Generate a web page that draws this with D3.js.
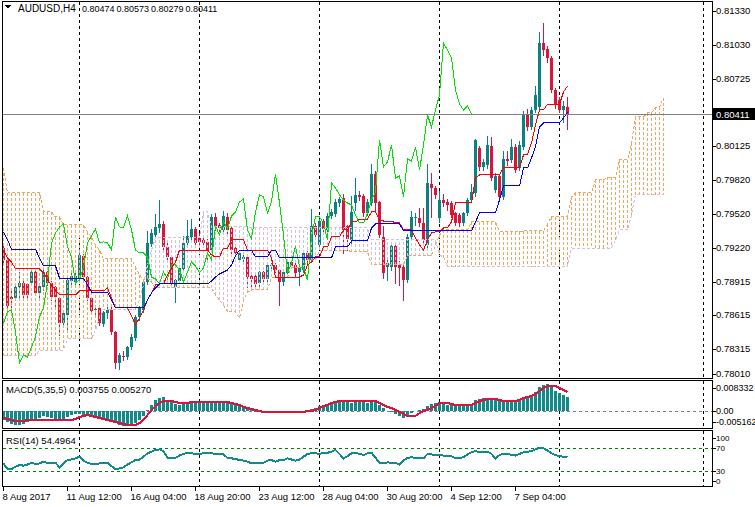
<!DOCTYPE html>
<html>
<head>
<meta charset="utf-8">
<script src="https://d3js.org/d3.v7.min.js"></script>
<style>
body { margin: 0; background: #fff; }
svg { display: block; shape-rendering: crispEdges; }
text { font-family: "Liberation Sans", Arial, sans-serif; font-size: 9.5px; fill: #000; }
</style>
</head>
<body>
<div id="content"></div>
<script>
// ---- data ----
var symbol = 'AUDUSD,H4';
var lastBar = [0.80474, 0.80573, 0.80279, 0.80411];

// [open, high, low, close] per H4 bar
var ohlc = [
[.79217,.79253,.79083,.79110],[.79110,.79128,.78682,.78699],[.78780,.78860,.78682,.78762],[.78771,.78887,.78753,.78869],
[.78869,.79012,.78753,.78905],[.78905,.78932,.78771,.78798],[.78896,.78914,.78753,.78798],[.78905,.79039,.78887,.79003],
[.79003,.79021,.78798,.78816],[.78816,.78896,.78753,.78878],[.78869,.79039,.78842,.79003],[.79003,.79021,.78887,.78905],
[.78905,.78932,.78753,.78780],[.78869,.78887,.78699,.78780],[.78771,.78789,.78440,.78548],[.78548,.78664,.78521,.78637],
[.78619,.78949,.78485,.78932],[.78923,.79003,.78896,.78967],[.78914,.79003,.78896,.78967],[.78949,.79217,.78932,.79155],
[.79146,.79173,.78941,.78958],[.78958,.78976,.78753,.78771],[.78771,.78789,.78637,.78655],[.78664,.78708,.78628,.78673],
[.78682,.78708,.78530,.78548],[.78539,.78664,.78521,.78646],[.78637,.78708,.78592,.78664],[.78664,.78699,.78449,.78467],
[.78467,.78485,.78146,.78190],[.78190,.78289,.78137,.78262],[.78253,.78306,.78217,.78244],[.78244,.78351,.78226,.78333],
[.78333,.78458,.78315,.78423],[.78414,.78628,.78396,.78601],[.78601,.78708,.78574,.78682],[.78664,.78932,.78646,.78914],
[.78914,.79378,.78896,.79262],[.79253,.79396,.79235,.79351],[.79333,.79530,.79316,.79405],[.79396,.79655,.79360,.79432],
[.79432,.79467,.79199,.79226],[.79226,.79289,.79119,.79137],[.79137,.79155,.78878,.78905],[.78869,.78949,.78735,.78932],
[.78923,.79066,.78905,.79039],[.79030,.79333,.79012,.79262],[.79262,.79476,.79244,.79325],[.79316,.79485,.79289,.79387],
[.79387,.79414,.79235,.79262],[.79307,.79360,.79244,.79271],[.79289,.79325,.79235,.79262],[.79271,.79307,.79092,.79199],
[.79199,.79530,.79182,.79494],[.79494,.79539,.79378,.79405],[.79423,.79450,.79360,.79396],[.79378,.79557,.79360,.79503],
[.79494,.79539,.79351,.79378],[.79396,.79423,.79173,.79199],[.79217,.79244,.79146,.79173],[.79110,.79199,.79092,.79173],
[.79119,.79173,.79092,.79137],[.79137,.79155,.78869,.78958],[.78967,.78985,.78869,.78941],[.78967,.78994,.78860,.78896],
[.78905,.79021,.78878,.79003],[.79003,.79021,.78914,.78941],[.78941,.79092,.78923,.79066],[.79057,.79092,.79039,.79066],
[.79066,.79092,.79003,.79021],[.79021,.79039,.78708,.78914],[.78914,.79021,.78887,.79003],[.78994,.79128,.78967,.79092],
[.79092,.79119,.79039,.79057],[.79066,.79092,.78967,.78994],[.79003,.79066,.78887,.79039],[.79021,.79199,.79003,.79173],
[.79173,.79199,.79083,.79110],[.79110,.79575,.79092,.79414],[.79414,.79450,.79307,.79333],[.79244,.79485,.79217,.79458],
[.79458,.79485,.79360,.79387],[.79378,.79539,.79333,.79503],[.79503,.79575,.79485,.79539],[.79521,.79664,.79503,.79628],
[.79619,.79682,.79592,.79655],[.79664,.79709,.79173,.79378],[.79414,.79432,.79199,.79298],[.79289,.79691,.79262,.79539],
[.79619,.79851,.79557,.79691],[.79691,.79735,.79646,.79673],[.79682,.79709,.79503,.79530],[.79530,.79664,.79512,.79628],
[.79619,.79976,.79601,.79878],[.79878,.79914,.79557,.79619],[.79628,.79646,.79316,.79333],[.79316,.79423,.78949,.78994],
[.79048,.79128,.78932,.79083],[.79048,.79262,.79021,.79235],[.79235,.79262,.78905,.79048],[.79066,.79110,.78887,.79039],
[.79048,.79083,.78753,.78932],[.78932,.79351,.78914,.79316],[.79316,.79557,.79289,.79494],[.79485,.79539,.79423,.79494],
[.79485,.79583,.79414,.79441],[.79441,.79583,.79262,.79289],[.79244,.79976,.79226,.79798],[.79789,.79896,.79494,.79753],
[.79753,.79780,.79664,.79691],[.79485,.79735,.79450,.79646],[.79646,.79709,.79592,.79619],[.79628,.79664,.79557,.79601],
[.79619,.79646,.79494,.79512],[.79530,.79548,.79423,.79441],[.79512,.79539,.79414,.79441],[.79441,.79548,.79423,.79530],
[.79530,.79673,.79512,.79646],[.79646,.79798,.79628,.79717],[.79709,.80200,.79682,.80182],[.80110,.80137,.79914,.79941],
[.79941,.80021,.79914,.79985],[.79959,.80226,.79932,.80137],[.80128,.80218,.79825,.79842],[.79735,.79896,.79717,.79860],
[.79860,.79887,.79655,.79673],[.79673,.80092,.79655,.80012],[.80012,.80092,.79959,.79994],[.80003,.80200,.79985,.80119],
[.80119,.80155,.79896,.79914],[.79932,.80182,.79914,.80137],[.80119,.80450,.80101,.80405],[.80405,.80468,.80271,.80298],
[.80298,.80485,.80280,.80450],[.80450,.80673,.80432,.80584],[.80476,.81155,.80459,.81048],[.81048,.81236,.80941,.80985],
[.80994,.81030,.80878,.80914],[.80914,.80941,.80610,.80628],[.80628,.80655,.80468,.80503],[.80539,.80575,.80432,.80450],
[.80450,.80539,.80343,.80485],lastBar
];

// step lines as [value, number of bars]
var tenkanRuns = [[.79199,1],[.79128,1],[.79092,1],[.79030,7],[.78994,1],[.78932,1],[.78887,1],[.78842,1],[.78798,5],[.78833,7],
[.78860,1],[.78771,1],[.78682,4],[.78610,1],[.78530,1],[.78592,1],[.78664,1],[.78753,1],[.78816,1],[.78887,1],[.78896,2],
[.78976,1],[.79039,1],[.79092,1],[.79199,8],[.79155,1],[.79137,2],[.79217,2],[.79289,4],[.79199,6],[.79128,1],[.78958,7],
[.78976,1],[.79066,1],[.79092,1],[.79137,2],[.79226,2],[.79316,3],[.79378,2],[.79450,2],[.79476,3],[.79539,2],[.79467,1],
[.79458,3],[.79441,2],[.79378,3],[.79307,1],[.79244,1],[.79199,1],[.79289,1],[.79351,1],[.79360,2],[.79396,2],[.79450,1],
[.79619,5],[.79842,1],[.79869,6],[.79932,5],[.80048,2],[.80155,1],[.80316,1],[.80450,2],[.80503,4],[.80610,1],[.80664,1]];

var kijunRuns = [[.79360,1],[.79289,1],[.79208,7],[.79128,1],[.79057,4],[.78949,7],[.78887,1],[.78824,5],[.78753,1],[.78682,8],
[.78753,1],[.78816,1],[.78860,1],[.78896,13],[.78923,1],[.78958,1],[.78985,1],[.79003,1],[.79021,1],[.79066,1],[.79146,1],
[.79199,4],[.79137,4],[.79199,2],[.79128,14],[.79226,4],[.79280,5],[.79396,1],[.79432,7],[.79369,18],[.79450,1],[.79530,5],
[.79646,1],[.79771,5],[.79932,2],[.80021,1],[.80119,1],[.80298,1],[.80334,5],[.80378,1],[.80432,1]];

var spanARuns = [[.79932,1],[.79709,9],[.79539,3],[.79494,2],[.79423,6],[.79360,1],[.79316,1],[.79244,1],[.79199,1],[.79119,8],
[.79048,1],[.78976,1],[.78932,1],[.78949,1],[.78914,1],[.78860,15],[.78798,1],[.78753,1],[.78708,1],[.78646,3],[.78592,1],
[.78753,1],[.78824,1],[.78842,5],[.78958,5],[.79039,4],[.79110,3],[.79199,8],[.79182,5],[.79066,9],[.79146,7],[.79244,1],
[.79333,1],[.79378,7],[.79450,7],[.79360,6],[.79369,6],[.79432,1],[.79494,5],[.79673,1],[.79709,5],[.79825,3],[.79851,3],
[.80003,3],[.80155,1],[.80387,3],[.80423,2],[.80476,2],[.80557,1]];

var spanBRuns = [[.78253,9],[.78306,7],[.78405,7],[.78485,1],[.78592,1],[.78664,9],[.78753,1],[.78887,1],[.79066,1],[.79199,1],
[.79307,12],[.79539,2],[.79405,10],[.79396,30],[.79289,17],[.79155,1],[.79137,1],[.79048,31],[.79217,11],[.79289,1],[.79378,3],
[.79512,1],[.79691,8]];

var chikouShift = 24;

// MACD(5,35,5): main as histogram, signal as line
var macdMain = [-0.00250,-0.00306,-0.00361,-0.00389,-0.00389,-0.00361,-0.00306,-0.00278,-0.00222,-0.00195,
-0.00139,-0.00167,-0.00195,-0.00222,-0.00278,-0.00250,-0.00167,-0.00111,-0.00083,-0.00083,
-0.00111,-0.00139,-0.00111,-0.00139,-0.00195,-0.00250,-0.00278,-0.00306,-0.00334,-0.00389,
-0.00417,-0.00417,-0.00389,-0.00334,-0.00250,-0.00139,0.00028,0.00167,0.00306,0.00361,
0.00389,0.00306,0.00250,0.00195,0.00167,0.00195,0.00222,0.00250,0.00250,0.00222,
0.00250,0.00250,0.00278,0.00278,0.00278,0.00278,0.00250,0.00195,0.00167,0.00139,
0.00083,0.00056,0.00028,-0.00028,-0.00028,-0.00056,-0.00028,-0.00028,-0.00056,-0.00056,
-0.00028,-0.00028,-0.00028,-0.00028,0,0,0.00028,0.00056,0.00083,0.00139,
0.00167,0.00195,0.00222,0.00222,0.00250,0.00250,0.00250,0.00222,0.00250,0.00278,
0.00250,0.00222,0.00250,0.00250,0.00167,0.00083,0,-0.00028,-0.00083,-0.00139,
-0.00195,-0.00139,-0.00056,0,0.00028,0.00056,0.00139,0.00195,0.00222,0.00222,
0.00195,0.00167,0.00167,0.00139,0.00139,0.00139,0.00167,0.00195,0.00306,0.00334,
0.00361,0.00361,0.00334,0.00306,0.00278,0.00306,0.00278,0.00278,0.00250,0.00306,
0.00389,0.00417,0.00445,0.00528,0.00667,0.00723,0.00751,0.00667,0.00556,0.00500,
0.00445,0.003755];

var macdSignalRuns = [[-0.00195,1],[-0.00222,1],[-0.00250,1],[-0.00278,3],[-0.00250,12],[-0.00222,1],[-0.00167,1],[-0.00139,1],
[-0.00111,1],[-0.00139,1],[-0.00167,1],[-0.00195,1],[-0.00222,1],[-0.00250,1],[-0.00278,1],[-0.00306,1],[-0.00334,1],[-0.00361,1],
[-0.00389,3],[-0.00334,1],[-0.00250,1],[-0.00111,1],[0.00028,1],[0.00139,1],[0.00222,1],[0.00278,3],[0.00250,1],[0.00222,3],
[0.00250,10],[0.00222,1],[0.00195,1],[0.00167,1],[0.00111,1],[0.00083,1],[0.00056,1],[0.00028,1],[0,1],[-0.00028,11],[0,2],
[0.00028,1],[0.00083,1],[0.00139,1],[0.00167,1],[0.00222,1],[0.00250,1],[0.00278,10],[0.00222,1],[0.00167,1],[0.00111,1],
[0.00083,1],[0.00028,1],[-0.00028,1],[-0.00083,1],[-0.00139,3],[-0.00056,1],[0,1],[0.00028,1],[0.00083,1],[0.00139,1],
[0.00222,3],[0.00195,1],[0.00167,5],[0.00222,1],[0.00278,1],[0.00306,1],[0.00334,3],[0.00306,1],[0.00278,4],[0.00306,1],
[0.00361,1],[0.00389,1],[0.00417,1],[0.00473,1],[0.00556,1],[0.00639,1],[0.00695,3],[0.00639,1],[0.00584,1],[0.00527,1]];
var macdLabel = 'MACD(5,35,5) 0.003755 0.005270';

var rsi = [43,33,33,37,40,39,41,44,42,43, 46,44,43,44,36,43,49,50,52,55, 48,44,42,42,43,44,44,38,33,34,
36,41,45,49,50,55,61,64,67,68, 65,53,52,53,57,60,62,61,60,60, 61,62,61,60,60,59,53,52,51,49,
48,46,43,43,44,44,48,49,46,49, 49,52,50,48,50,55,60,61,61,60, 62,62,64,67,60,52,56,61,62,60,
58,61,62,53,44,43,45,44,44,41, 48,53,54,53,53,52,60,59,58,58, 57,56,56,52,53,54,59,63,65,63,
63,64,60,52,58,60,60,58,57,60, 63,64,65,68,71,70,66,61,58,56, 55,54.4964];
var rsiLabel = 'RSI(14) 54.4964';

var priceTicks = [0.81330, 0.81030, 0.80725, 0.80125, 0.79820, 0.79520, 0.79220, 0.78915, 0.78615, 0.78315, 0.78010];
var macdTicks = [0.008332, 0, -0.005162];
var macdTickText = ['0.008332', '0.00', '-0.005162'];
var rsiTicks = [100, 70, 30, 0];
var rsiLevels = [70, 30];
var timeBars = [0, 16, 32, 48, 64, 80, 96, 112, 128];
var timeLabels = ['8 Aug 2017', '11 Aug 12:00', '16 Aug 04:00', '18 Aug 20:00', '23 Aug 12:00',
                  '28 Aug 04:00', '30 Aug 20:00', '4 Sep 12:00', '7 Sep 04:00'];
var gridBars = [19, 49, 79, 109, 139, 175];

function runs(list) {
    var out = [];
    list.forEach(function(r) { for (var k = 0; k < r[1]; k++) out.push(r[0]); });
    return out;
}
var tenkan = runs(tenkanRuns), kijun = runs(kijunRuns);
var spanA = runs(spanARuns), spanB = runs(spanBRuns);
var macdSignal = runs(macdSignalRuns);
var closes = ohlc.map(function(d) { return d[3]; });
var chikou = closes.slice(chikouShift);

// ---- layout ----
var L = 2.5, R = 712.5;
var main = {top: 1.5, bottom: 378.5}, macdP = {top: 380.5, bottom: 428.5}, rsiP = {top: 430.5, bottom: 486.5};

var svg = d3.select('#content').append('svg')
    .attr('width', 755)
    .attr('height', 507);
svg.append('rect').attr('width', 755).attr('height', 507).attr('fill', '#fff');

var x = d3.scaleLinear().domain([0, 1]).range([3.5, 7.5]);
var y = d3.scaleLinear().domain([0.78056, 0.81414]).range([378, 2]);
var yM = d3.scaleLinear().domain([-0.005162, 0.008332]).range([429.6, 381]);
var yR = d3.scaleLinear().domain([0, 100]).range([487.5, 431.5]);

var bull = '#0b8282', bear = '#dc143c';

// vertical dashed grid in every panel
[main, macdP, rsiP].forEach(function(p) {
    svg.append('g').selectAll('line').data(gridBars).enter().append('line')
        .attr('x1', function(d) { return x(d); }).attr('x2', function(d) { return x(d); })
        .attr('y1', p.top).attr('y2', p.bottom)
        .attr('stroke', '#000').attr('stroke-dasharray', '3,3');
});

// candles
var cg = svg.append('g');
ohlc.forEach(function(d, i) {
    var c = d[3] >= d[0] ? bull : bear;
    cg.append('line').attr('x1', x(i)).attr('x2', x(i))
        .attr('y1', Math.round(y(d[1])) + 0.5).attr('y2', Math.round(y(d[2])) + 0.5)
        .attr('stroke', c);
    var top = Math.round(y(Math.max(d[0], d[3]))), bot = Math.round(y(Math.min(d[0], d[3])));
    cg.append('rect').attr('x', x(i) - 1.5).attr('width', 3)
        .attr('y', top).attr('height', Math.max(1, bot - top))
        .attr('fill', c);
});

// Ichimoku cloud: dotted histogram between span A and span B
svg.append('g').selectAll('line').data(spanA).enter().append('line')
    .attr('x1', function(d, i) { return x(i); }).attr('x2', function(d, i) { return x(i); })
    .attr('y1', function(d) { return y(d); })
    .attr('y2', function(d, i) { return y(spanB[i]); })
    .attr('stroke', function(d, i) { return d >= spanB[i] ? '#f4a460' : '#d8bfd8'; })
    .attr('stroke-dasharray', '3,2');

function drawLine(data, color, dash, scaleFn, width) {
    var ln = d3.line().x(function(d, i) { return x(i); }).y(function(d) { return scaleFn(d); });
    svg.append('path').attr('d', ln(data)).attr('fill', 'none')
        .attr('stroke', color).attr('stroke-width', width || 1)
        .attr('stroke-dasharray', dash || null);
}
drawLine(spanA, '#f4a460', '3,2', y);
drawLine(spanB, '#d8bfd8', '3,2', y);
drawLine(chikou, '#00e000', null, y);
drawLine(tenkan, '#ff0000', null, y);
drawLine(kijun, '#0000ff', null, y);

// current price line
svg.append('line').attr('x1', L).attr('x2', R)
    .attr('y1', Math.round(y(lastBar[3])) + 0.5).attr('y2', Math.round(y(lastBar[3])) + 0.5)
    .attr('stroke', '#808080');

// MACD panel
svg.append('line').attr('x1', L).attr('x2', R).attr('y1', Math.round(yM(0)) + 0.5).attr('y2', Math.round(yM(0)) + 0.5)
    .attr('stroke', '#808080').attr('stroke-dasharray', '3,3');
svg.append('g').selectAll('rect').data(macdMain).enter().append('rect')
    .attr('x', function(d, i) { return x(i) - 1.5; }).attr('width', 3)
    .attr('y', function(d) { return Math.round(Math.min(yM(d), yM(0))); })
    .attr('height', function(d) { return Math.round(Math.abs(yM(d) - yM(0))); })
    .attr('fill', '#138a8a');
drawLine(macdSignal, '#dc143c', null, yM, 2);

// RSI panel
svg.append('g').selectAll('line').data(rsiLevels).enter().append('line')
    .attr('x1', L).attr('x2', R)
    .attr('y1', function(d) { return Math.round(yR(d)) + 0.5; })
    .attr('y2', function(d) { return Math.round(yR(d)) + 0.5; })
    .attr('stroke', '#008000').attr('stroke-dasharray', '3,3');
drawLine(rsi, '#138a8a', null, yR, 2);

// panel borders
[main, macdP, rsiP].forEach(function(p) {
    svg.append('rect').attr('x', L).attr('y', p.top).attr('width', R - L).attr('height', p.bottom - p.top)
        .attr('fill', 'none').attr('stroke', '#000');
});

// right axis labels
function axisLabels(values, texts, scaleFn, lo, hi, size) {
    values.forEach(function(v, k) {
        var yy = Math.min(hi, Math.max(lo, scaleFn(v)));
        svg.append('line').attr('x1', R).attr('x2', R + 3).attr('y1', Math.round(yy) + 0.5).attr('y2', Math.round(yy) + 0.5)
            .attr('stroke', '#000');
        svg.append('text').attr('x', 716).attr('y', yy + 3).style('font-size', size).text(texts[k]);
    });
}
axisLabels(priceTicks, priceTicks.map(function(v) { return v.toFixed(5); }), y, 8, 374, '9.5px');
axisLabels(macdTicks, macdTickText, yM, 388, 422, '9px');
axisLabels(rsiTicks, rsiTicks.map(String), yR, 438, 480.5, '8px');

// last price tag
var ly = y(lastBar[3]);
svg.append('rect').attr('x', 713).attr('y', Math.round(ly) - 6).attr('width', 42).attr('height', 12).attr('fill', '#000');
svg.append('text').attr('x', 716).attr('y', ly + 3.3).style('fill', '#fff').text(lastBar[3].toFixed(5));

// time axis
timeBars.forEach(function(b, k) {
    svg.append('line').attr('x1', x(b)).attr('x2', x(b)).attr('y1', rsiP.bottom).attr('y2', rsiP.bottom + 4)
        .attr('stroke', '#000');
    svg.append('text').attr('x', x(b) - 1).attr('y', 500).text(timeLabels[k]);
});

// titles
svg.append('path').attr('d', 'M5,5L11,5L8,9Z').attr('fill', '#000');
svg.append('text').attr('x', 18).attr('y', 12).style('font-size', '10px').text(symbol);
var titleX = d3.scaleLinear().domain([0, 1]).range([82, 116.5]);
lastBar.forEach(function(v, k) {
    svg.append('text').attr('x', titleX(k)).attr('y', 12).style('font-size', '9px').text(v.toFixed(5));
});
svg.append('text').attr('x', 6).attr('y', 393).text(macdLabel);
svg.append('text').attr('x', 6).attr('y', 444).text(rsiLabel);
</script>
</body>
</html>
